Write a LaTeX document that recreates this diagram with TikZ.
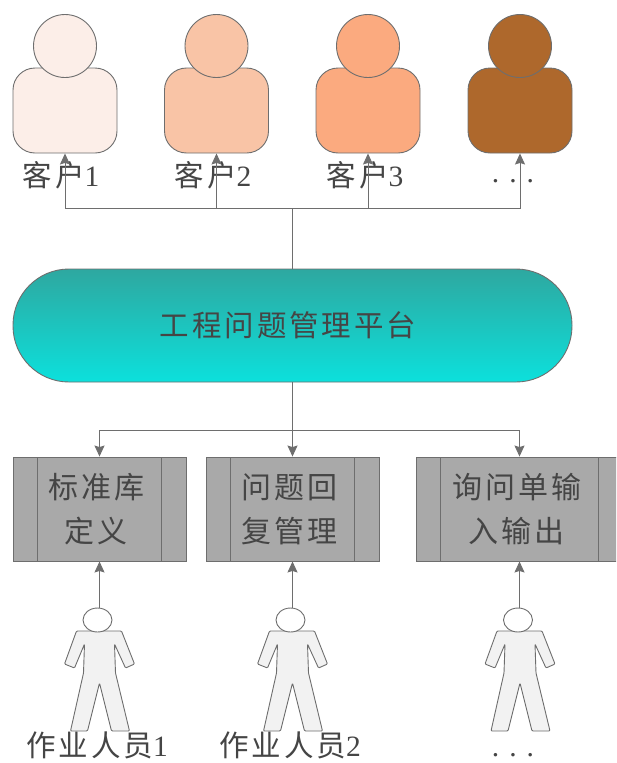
\documentclass[tikz,border=0pt]{standalone}
\usepackage{fontspec}
\setmainfont{Liberation Serif}
\newfontfamily\cjk[LetterSpace=10]{Noto Sans CJK SC}
\usetikzlibrary{arrows.meta,shapes.geometric}
\definecolor{line_gray}{HTML}{6E6E6E}
\definecolor{text_gray}{HTML}{454545}
\definecolor{box_gray}{HTML}{A9A9A9}
\begin{document}
\begin{tikzpicture}[x=1pt,y=-1pt,
	client_body/.style={rectangle,rounded corners=22pt,draw=line_gray,line width=0.9pt,minimum width=104pt,minimum height=85pt,inner sep=0pt},
	client_head/.style={circle,draw=line_gray,line width=0.9pt,minimum size=63pt,inner sep=0pt},
	box_node/.style={rectangle,draw=line_gray,line width=0.9pt,fill=box_gray,minimum height=104pt,inner sep=0pt,align=center,text=text_gray,font=\fontsize{30}{44}\selectfont,
		path picture={\draw[line_gray,line width=0.9pt] ([xshift=24.5pt]path picture bounding box.north west) -- ([xshift=24.5pt]path picture bounding box.south west);
			\draw[line_gray,line width=0.9pt] ([xshift=-24.5pt]path picture bounding box.north east) -- ([xshift=-24.5pt]path picture bounding box.south east);}},
	worker_head/.style={ellipse,draw=line_gray,line width=0.9pt,fill=white,minimum width=29pt,minimum height=24pt,inner sep=0pt},
	label_node/.style={inner sep=0pt,text=text_gray,font=\fontsize{29.5}{34}\selectfont},
	bottom_label/.style={label_node,anchor=base,text depth=0pt},
	link/.style={draw=line_gray,line width=1pt},
	arrow_link/.style={link,-{Stealth[length=11pt,width=10pt,inset=1.5pt]}},
	pics/worker_body/.style={code={
		\draw[line_gray,line width=0.9pt,fill=black!5,rounded corners=1pt] (-21,11) -- (-33,44) -- (-23,48) -- (-13,24) -- (-14,53) -- (-27,111) -- (-10,111) -- (2,63) -- (14,111) -- (32,111) -- (18,53) -- (17,24) -- (28,48) -- (37,44) -- (24,11) -- cycle;
	}}]
	\clip (0,0) rectangle (616,763);

	\node[label_node] (l1) at (61,175) {{\cjk 客户}1};
	\node[label_node] (l2) at (213,175) {{\cjk 客户}2};
	\node[label_node] (l3) at (365,175) {{\cjk 客户}3};
	\node[label_node] (l4) at (513,181) {.\hspace{10pt}.\hspace{10pt}.};

	\node[client_body,fill={rgb,255:red,252;green,238;blue,232}] (c1) at (65,110.5) {};
	\node[client_body,fill={rgb,255:red,249;green,196;blue,166}] (c2) at (216.5,110.5) {};
	\node[client_body,fill={rgb,255:red,251;green,170;blue,127}] (c3) at (368,110.5) {};
	\node[client_body,fill={rgb,255:red,174;green,104;blue,44}] (c4) at (520,110.5) {};
	\node[client_head,fill={rgb,255:red,252;green,238;blue,232}] (h1) at (65,46) {};
	\node[client_head,fill={rgb,255:red,249;green,196;blue,166}] (h2) at (216.5,46) {};
	\node[client_head,fill={rgb,255:red,251;green,170;blue,127}] (h3) at (368,46) {};
	\node[client_head,fill={rgb,255:red,174;green,104;blue,44}] (h4) at (520,46) {};

	\node[rectangle,rounded corners=56pt,draw=line_gray,line width=0.9pt,top color={rgb,255:red,46;green,168;blue,160},bottom color={rgb,255:red,12;green,224;blue,220},minimum width=559pt,minimum height=113pt,inner sep=0pt,text=text_gray,font=\fontsize{29.5}{34}\selectfont\cjk] (platform) at (292.5,325.5) {工程问题管理平台\hspace*{9pt}};
	\coordinate (top_bus) at (292.5,208);
	\coordinate (bottom_bus) at (292.5,430);

	\node[box_node,minimum width=173pt] (b1) at (99.5,509) {\cjk 标准库\hspace*{6pt}\\\cjk 定义\hspace*{6pt}};
	\node[box_node,minimum width=173pt] (b2) at (292.5,509) {\cjk 问题回\hspace*{6pt}\\\cjk 复管理\hspace*{6pt}};
	\node[box_node,minimum width=207pt] (b3) at (519.5,509) {\cjk 询问单输\hspace*{6pt}\\\cjk 入输出\hspace*{6pt}};

	\pic at (97.5,620) {worker_body};
	\pic at (290.5,620) {worker_body};
	\pic at (518,620) {worker_body};
	\node[worker_head] (w1) at (97.5,620) {};
	\node[worker_head] (w2) at (290.5,620) {};
	\node[worker_head] (w3) at (518,620) {};

	\node[bottom_label] (n1) at (97,756) {{\cjk 作业人员}1};
	\node[bottom_label] (n2) at (290,756) {{\cjk 作业人员}2};
	\node[bottom_label] (n3) at (513,756) {.\hspace{10pt}.\hspace{10pt}.};

	\draw[link] (platform.north) -- (top_bus);
	\draw[arrow_link] (top_bus) -| (c1.south);
	\draw[arrow_link] (top_bus) -| (c2.south);
	\draw[arrow_link] (top_bus) -| (c3.south);
	\draw[arrow_link] (top_bus) -| (c4.south);
	\draw[link] (platform.south) -- (bottom_bus);
	\draw[arrow_link] (bottom_bus) -| (b1.north);
	\draw[arrow_link] (bottom_bus) -- (b2.north);
	\draw[arrow_link] (bottom_bus) -| (b3.north);
	\draw[arrow_link] (b1.south |- w1.north) -- (b1.south);
	\draw[arrow_link] (b2.south |- w2.north) -- (b2.south);
	\draw[arrow_link] (b3.south |- w3.north) -- (b3.south);
\end{tikzpicture}
\end{document}
